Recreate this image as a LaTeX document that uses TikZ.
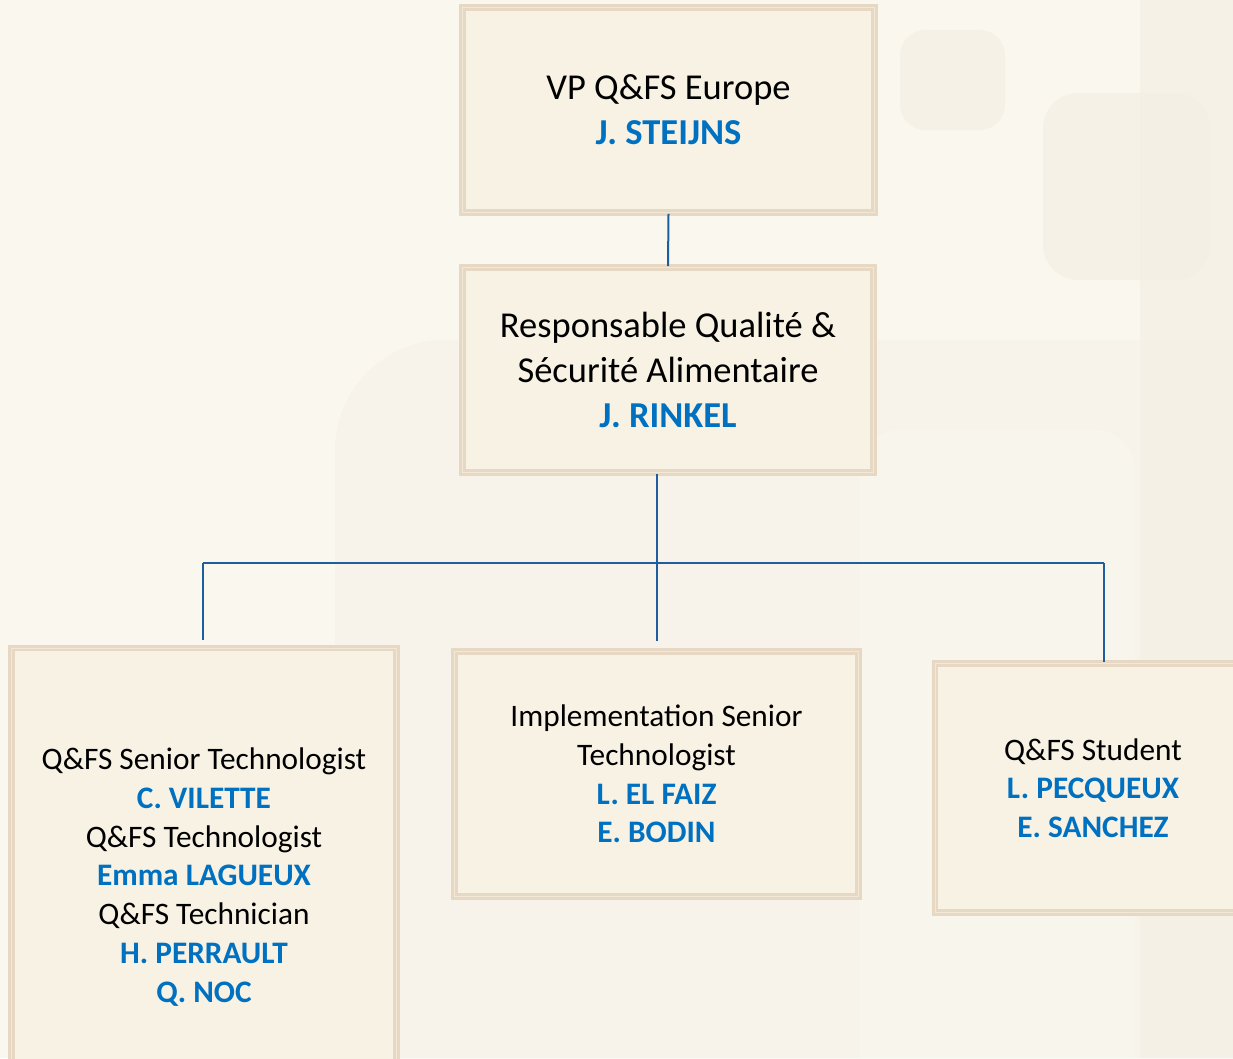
\documentclass[tikz,border=0pt]{standalone}
\usepackage{fontspec}
\setmainfont{Carlito}
\definecolor{bgc}{HTML}{FAF7EF}
\definecolor{bgd}{HTML}{F3EEE2}
\definecolor{boxfill}{HTML}{F7F2E4}
\definecolor{boxedge}{HTML}{E6D8C3}
\definecolor{boxin}{HTML}{F1E8D8}
\definecolor{linec}{HTML}{1F5E9E}
\definecolor{namec}{HTML}{0070C0}
\newcommand{\nm}[1]{{\color{namec}\bfseries #1}}
\tikzset{
  orgbox/.style={draw=boxedge, line width=2.6pt, fill=boxfill, inner sep=0pt, align=center,
    double=boxin, double distance=1pt},
  bigtxt/.style={font=\fontsize{36.5}{45}\selectfont},
  smalltxt/.style={font=\fontsize{31.3}{38.7}\selectfont},
  conn/.style={draw=linec, line width=2pt}
}
\begin{document}
\begin{tikzpicture}[x=1pt,y=-1pt]
\useasboundingbox (0,0) rectangle (1233,1058);
% background
\fill[bgc] (0,0) rectangle (1233,1058);
\fill[bgd, opacity=0.35, rounded corners=110pt] (335,340) rectangle (1400,1200);
\fill[bgc, opacity=0.5, rounded corners=40pt] (860,430) rectangle (1135,1200);
\fill[bgd, opacity=0.6] (1140,0) rectangle (1233,1058);
\fill[bgd, opacity=0.6, rounded corners=25pt] (900,30) rectangle (1005,130);
\fill[bgd, opacity=0.6, rounded corners=35pt] (1043,93) rectangle (1210,280);
% boxes
\node[orgbox, bigtxt, minimum width=412pt, minimum height=205pt] (top) at (668.5,110)
  {VP Q\&FS Europe\\ \nm{J. STEIJNS}};
\node[orgbox, bigtxt, minimum width=411pt, minimum height=205pt] (mid) at (668,370)
  {Responsable Qualité \&\\ Sécurité Alimentaire\\ \nm{J. RINKEL}};
\node[orgbox, smalltxt, minimum width=385pt, minimum height=458pt] (lft) at (204,877)
  {Q\&FS Senior Technologist\\ \nm{C. VILETTE}\\ Q\&FS Technologist\\ \nm{Emma LAGUEUX}\\ Q\&FS Technician\\ \nm{H. PERRAULT}\\ \nm{Q. NOC}};
\node[orgbox, smalltxt, minimum width=404pt, minimum height=245pt] (ctr) at (656.5,774)
  {Implementation Senior\\ Technologist\\ \nm{L. EL FAIZ}\\ \nm{E. BODIN}};
\node[orgbox, smalltxt, minimum width=316pt, minimum height=249pt] (rgt) at (1093,788)
  {Q\&FS Student\\ \nm{L. PECQUEUX}\\ \nm{E. SANCHEZ}};
% connectors
\coordinate (bl) at (203,563);
\coordinate (bm) at (657,563);
\coordinate (br) at (1104,563);
\coordinate (el) at (203,640);
\coordinate (em) at (657,641);
\draw[conn] (top.south) -- (mid.north);
\draw[conn] (mid.south -| bm) -- (em);
\draw[conn] (bl) -- (br);
\draw[conn] (bl) -- (el);
\draw[conn] (br) -- (br |- rgt.north);
\end{tikzpicture}
\end{document}
